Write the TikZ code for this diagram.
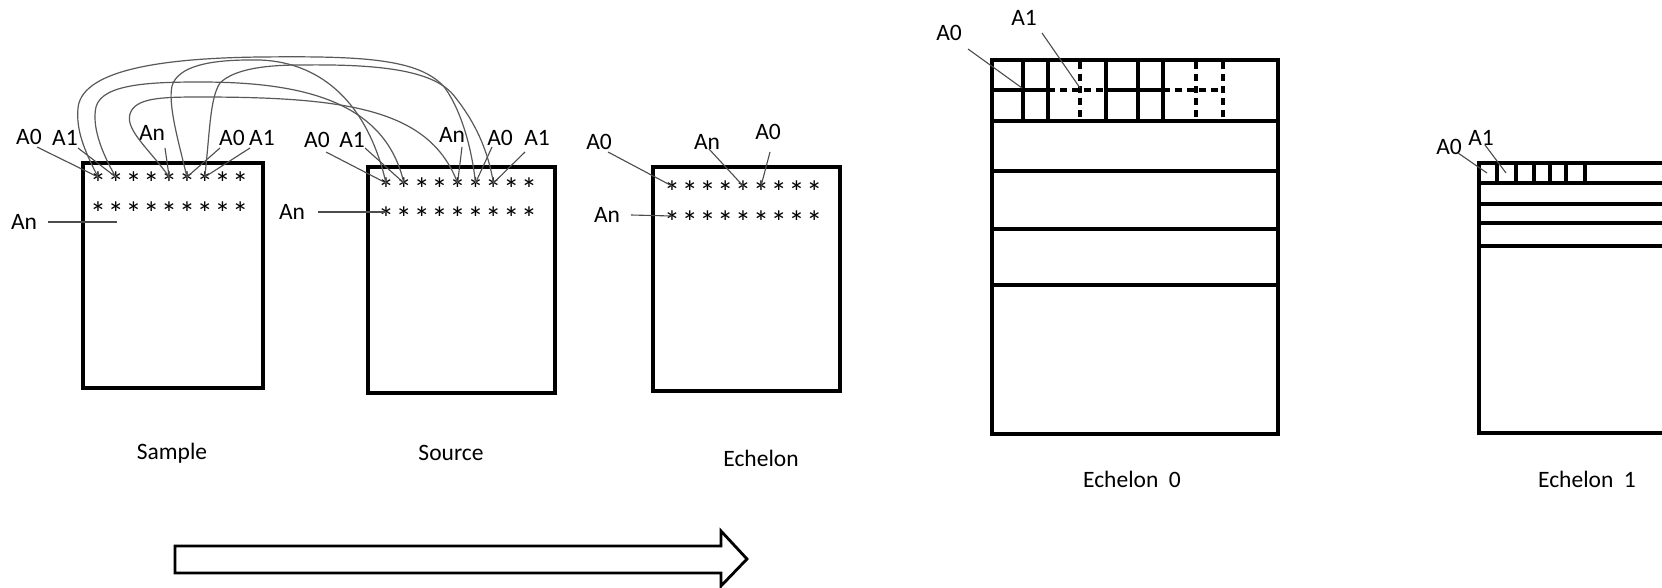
\documentclass[tikz,border=0pt]{standalone}
\usepackage{fontspec}
\setmainfont{Carlito}
\begin{document}
\begin{tikzpicture}[x=1pt,y=-1pt,
  box/.style={line width=3.2pt},
  dbox/.style={line width=3.2pt,dash pattern=on 7pt off 5pt},
  lead/.style={line width=1.1pt,black!70},
  crv/.style={line width=1.2pt,black!65},
  lab/.style={font=\fontsize{23.5}{26}\selectfont,inner sep=0pt},
  captxt/.style={font=\fontsize{23.5}{27}\selectfont,inner sep=0pt},
  stargl/.style={font=\fontsize{32}{34}\selectfont,inner sep=0pt,yshift=-6pt}]
\clip (0,0) rectangle (1662,588);
\fill[white] (0,0) rectangle (1662,588);

% ---------- Sample ----------
\draw[box] (83,163) rectangle (263,388);
\foreach \r/\y in {1/177,2/207}{
  \foreach \k in {1,...,9}{
    \coordinate (sa-\r-\k) at ({98+17.8*(\k-1)},\y);
    \node[stargl] (sa-\r-\k-t) at (sa-\r-\k) {*};
  }}
\node[lab] (saA0) at (29,137) {A0};
\node[lab] (saA1) at (65,138) {A1};
\node[lab] (saAn) at (152,133) {An};
\node[lab] (saA0b) at (232,138) {A0};
\node[lab] (saA1b) at (262,138) {A1};
\node[lab] (saAn2) at (24,222) {An};
\coordinate (saA0s) at (37,147);
\coordinate (saA1s) at (78,148);
\coordinate (saAns) at (165,148);
\coordinate (saA0bs) at (220,148);
\coordinate (saA1bs) at (250,148);
\coordinate (saAn2s) at (48,222);
\coordinate (saAn2e) at (117,222);
\draw[lead] (saA0s) -- (sa-1-1);
\draw[lead] (saA1s) -- (sa-1-2);
\draw[lead] (saAns) -- (sa-1-5);
\draw[lead] (saA0bs) -- (sa-1-6);
\draw[lead] (saA1bs) -- (sa-1-7);
\draw[lead] (saAn2s) -- (saAn2e);

% ---------- Source ----------
\draw[box] (368,167) rectangle (555,393);
\foreach \r/\y in {1/183,2/212}{
  \foreach \k in {1,...,9}{
    \coordinate (so-\r-\k) at ({386+17.9*(\k-1)},\y);
    \node[stargl] (so-\r-\k-t) at (so-\r-\k) {*};
  }}
\node[lab] (soA0) at (317,140) {A0};
\node[lab] (soA1) at (352,140) {A1};
\node[lab] (soAn) at (452,135) {An};
\node[lab] (soA0b) at (500,138) {A0};
\node[lab] (soA1b) at (537,138) {A1};
\node[lab] (soAn2) at (292,212) {An};
\coordinate (soA0s) at (326,152);
\coordinate (soA1s) at (365,148);
\coordinate (soAns) at (462,147);
\coordinate (soA0bs) at (492,147);
\coordinate (soA1bs) at (525,152);
\coordinate (soAn2s) at (318,212);
\draw[lead] (soA0s) -- (so-1-1);
\draw[lead] (soA1s) -- (so-1-2);
\draw[lead] (soAns) -- (so-1-5);
\draw[lead] (soA0bs) -- (so-1-6);
\draw[lead] (soA1bs) -- (so-1-7);
\draw[lead] (soAn2s) -- (so-2-1);

% ---------- curves Sample -> Source ----------
\draw[crv] (sa-1-1) .. controls (84,150) and (76,130) .. (78,108)
  .. controls (82,66) and (180,58) .. (260,57)
  .. controls (360,56) and (420,58) .. (445,88)
  .. controls (462,112) and (472,150) .. (so-1-6);
\draw[crv] (sa-1-2) .. controls (100,150) and (92,125) .. (96,107)
  .. controls (102,84) and (150,82) .. (200,82)
  .. controls (300,82) and (385,100) .. (so-1-2);
\draw[crv] (sa-1-5) .. controls (150,150) and (125,130) .. (130,114)
  .. controls (135,98) and (160,97) .. (200,97)
  .. controls (350,97) and (430,110) .. (so-1-5);
\draw[crv] (sa-1-6) .. controls (178,140) and (168,105) .. (172,86)
  .. controls (178,66) and (210,60) .. (250,60)
  .. controls (310,58) and (365,92) .. (so-1-1);
\draw[crv] (sa-1-7) .. controls (210,130) and (210,98) .. (220,83)
  .. controls (235,68) and (270,65) .. (300,65)
  .. controls (380,64) and (435,70) .. (455,97)
  .. controls (475,122) and (488,150) .. (so-1-7);

% ---------- Echelon ----------
\draw[box] (653,167) rectangle (840,391);
\foreach \r/\y in {1/186,2/216}{
  \foreach \k in {1,...,9}{
    \coordinate (ec-\r-\k) at ({672+17.8*(\k-1)},\y);
    \node[stargl] (ec-\r-\k-t) at (ec-\r-\k) {*};
  }}
\node[lab] (ecA0) at (599,142) {A0};
\node[lab] (ecAn) at (707,142) {An};
\node[lab] (ecA0b) at (768,132) {A0};
\node[lab] (ecAn2) at (607,215) {An};
\coordinate (ecA0s) at (608,152);
\coordinate (ecAns) at (709,149);
\coordinate (ecA0bs) at (770,152);
\coordinate (ecAn2s) at (631,215);
\draw[lead] (ecA0s) -- (ec-1-1);
\draw[lead] (ecAns) -- (ec-1-5);
\draw[lead] (ecA0bs) -- (ec-1-6);
\draw[lead] (ecAn2s) -- (ec-2-1);

% ---------- Echelon 0 ----------
\draw[box] (992,60) rectangle (1278,434);
\foreach \y in {121,171,229,285} \draw[box] (992,\y) -- (1278,\y);
\foreach \x in {1023,1048,1106,1138,1163} \draw[box] (\x,60) -- (\x,121);
\foreach \x in {1080,1196,1223} \draw[dbox] (\x,62) -- (\x,121);
\draw[box] (992,90) -- (1048,90);
\draw[dbox] (1048,90) -- (1106,90);
\draw[box] (1106,90) -- (1163,90);
\draw[dbox] (1163,90) -- (1223,90);
\node[lab] (e0A0) at (949,33) {A0};
\node[lab] (e0A1) at (1024,18) {A1};
\coordinate (e0A0s) at (968,49);
\coordinate (e0A0e) at (1022,88);
\coordinate (e0A1s) at (1042,33);
\coordinate (e0A1e) at (1080,88);
\draw[lead] (e0A0s) -- (e0A0e);
\draw[lead] (e0A1s) -- (e0A1e);

% ---------- Echelon 1 ----------
\draw[box] (1700,163) -- (1479,163) -- (1479,433) -- (1700,433);
\foreach \y in {183,204,223,246} \draw[box] (1479,\y) -- (1700,\y);
\foreach \x in {1497,1516,1534,1550,1566,1585} \draw[box] (\x,163) -- (\x,183);
\node[lab] (e1A0) at (1449,147) {A0};
\node[lab] (e1A1) at (1481,138) {A1};
\coordinate (e1A0s) at (1458,153);
\coordinate (e1A0e) at (1487,173);
\coordinate (e1A1s) at (1485,145);
\coordinate (e1A1e) at (1506,173);
\draw[lead] (e1A0s) -- (e1A0e);
\draw[lead] (e1A1s) -- (e1A1e);

% ---------- captions ----------
\node[captxt] (cSample) at (172,453) {Sample};
\node[captxt] (cSource) at (451,453) {Source};
\node[captxt] (cEch) at (761,458) {Echelon};
\node[captxt] (cEch0) at (1132,479) {Echelon\ \ 0};
\node[captxt] (cEch1) at (1587,479) {Echelon\ \ 1};

% ---------- block arrow ----------
\draw[line width=2.8pt,line join=miter] (175,546) -- (721,546) -- (721,531) -- (747,559)
  -- (721,586) -- (721,573) -- (175,573) -- cycle;
\end{tikzpicture}
\end{document}
